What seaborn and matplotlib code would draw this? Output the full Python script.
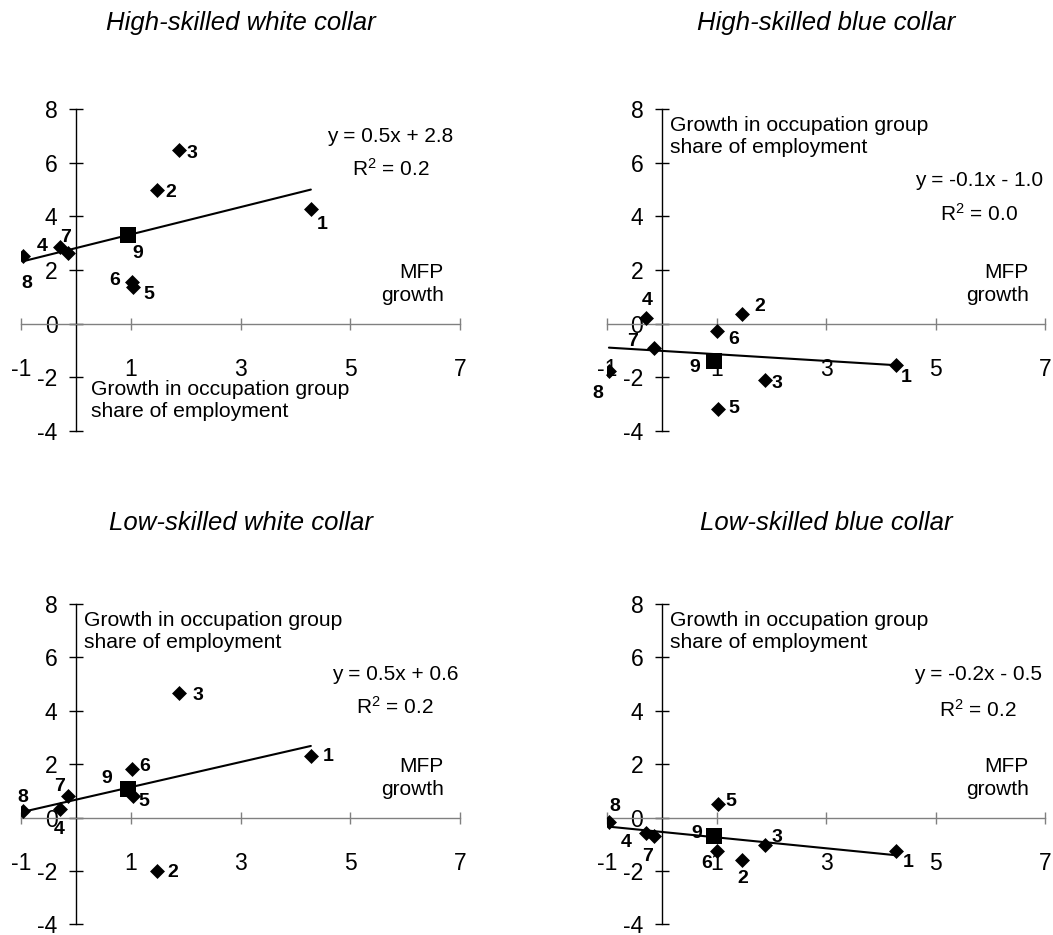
import matplotlib
matplotlib.use("Agg")
import matplotlib.pyplot as plt
import pandas as pd
import seaborn as sn
import numpy as np

# MFP growth by industry (same for every panel), 9 = total
mfp_growth = [4.28, 1.47, 1.88, -0.30, 1.03, 1.01, -0.15, -0.97, 0.95]
industry = ['1', '2', '3', '4', '5', '6', '7', '8', '9']

# growth in occupation group share of employment
hs_white = [4.27, 5.00, 6.47, 2.87, 1.38, 1.55, 2.65, 2.52, 3.30]
hs_blue = [-1.56, 0.37, -2.12, 0.21, -3.18, -0.27, -0.90, -1.77, -1.40]
ls_white = [2.31, -2.00, 4.66, 0.31, 0.81, 1.81, 0.81, 0.26, 1.06]
ls_blue = [-1.25, -1.59, -1.02, -0.59, 0.49, -1.25, -0.71, -0.16, -0.68]

titles = ['High-skilled white collar', 'High-skilled blue collar',
          'Low-skilled white collar', 'Low-skilled blue collar']
slopes = [0.51, -0.125, 0.47, -0.204]
intercepts = [2.82, -1.02, 0.67, -0.54]
equations = ['y = 0.5x + 2.8', 'y = -0.1x - 1.0', 'y = 0.5x + 0.6', 'y = -0.2x - 0.5']
r_squared = ['0.2', '0.0', '0.2', '0.2']

series = [hs_white, hs_blue, ls_white, ls_blue]

# layout: axes boxes in figure pixels (left, top, right, bottom)
W, H = 1053, 935
boxes = [(21.3, 109.3, 460, 430.7), (607.3, 109.3, 1045, 430.7),
         (21.3, 604, 460, 924.3), (607.3, 604, 1045, 924.3)]
title_y = [23, 23, 523, 523]

# text positions (data coords)
growth_pos = [(0.28, -2.1), (0.15, 7.75), (0.15, 7.75), (0.15, 7.75)]
eq_pos = [(5.73, 7.0, 5.76), (5.79, 5.36, 4.11), (5.82, 5.34, 4.16), (5.78, 5.35, 4.05)]

# offsets of number labels from markers (pixels, +y up)
label_offsets = [
    [(11, -15), (14, -3), (13, -3), (-17, 0), (16, -8), (-17, 2), (-2, 15), (4, -27), (10, -18)],
    [(10, -12), (17, 7), (12, -3), (2, 17), (15, 0), (16, -9), (-21, 6), (-11, -23), (-19, -6)],
    [(17, -1), (16, -2), (19, -2), (0, -20), (11, -6), (13, 3), (-8, 9), (0, 13), (-21, 11)],
    [(12, -12), (0, -19), (12, 7), (-19, -9), (12, 3), (-11, -13), (-6, -20), (6, 15), (-17, 2)],
]

sn.set_style('white')
plt.rcParams['font.family'] = ['Liberation Sans', 'DejaVu Sans']
plt.rcParams['mathtext.default'] = 'regular'
plt.rcParams['axes.unicode_minus'] = False
plt.rcParams['text.color'] = 'black'

fig = plt.figure(figsize=(W / 100, H / 100), dpi=100)

for i, vals in enumerate(series):
    l, t, r, b = boxes[i]
    ax = fig.add_axes([l / W, 1 - b / H, (r - l) / W, (b - t) / H])
    ax.set_facecolor('none')

    df = pd.DataFrame({'mfp': mfp_growth, 'share': vals, 'ind': industry})
    inds = df[df['ind'] != '9']
    total = df[df['ind'] == '9']

    # trend line over the range of the data
    xs = np.array([df['mfp'].min(), df['mfp'].max()])
    ax.plot(xs, slopes[i] * xs + intercepts[i], color='black', lw=1.5, zorder=2)

    sn.scatterplot(data=inds, x='mfp', y='share', marker='D', s=58, color='black',
                   linewidth=0, ax=ax, zorder=3)
    sn.scatterplot(data=total, x='mfp', y='share', marker='s', s=121, color='black',
                   linewidth=0, ax=ax, zorder=3)

    for j, row in df.iterrows():
        dx, dy = label_offsets[i][j]
        ax.annotate(row['ind'], (row['mfp'], row['share']), xytext=(dx, dy),
                    textcoords='offset pixels', ha='center', va='center', color='black',
                    fontsize=14, fontweight='bold', zorder=4)

    ax.set_xlim(-1, 7)
    ax.set_ylim(-4, 8)
    ax.set_xticks([-1, 1, 3, 5, 7])
    ax.set_yticks([-4, -2, 0, 2, 4, 6, 8])
    ax.set_xlabel('')
    ax.set_ylabel('')

    ax.spines['top'].set_visible(False)
    ax.spines['right'].set_visible(False)
    ax.spines['left'].set_position(('data', 0))
    ax.spines['bottom'].set_position(('data', 0))
    ax.spines['left'].set_color('black')
    ax.spines['left'].set_linewidth(1.0)
    ax.spines['bottom'].set_color('#808080')
    ax.spines['bottom'].set_linewidth(1.0)

    ax.tick_params(axis='x', bottom=True, direction='inout', length=8.9, width=1.0,
                   color='#808080', pad=20.5, labelsize=16.5, labelcolor='black')
    ax.tick_params(axis='y', left=True, direction='inout', length=10, width=1.0,
                   color='black', pad=8.5, labelsize=16.5, labelcolor='black')

    gx, gy = growth_pos[i]
    ax.text(gx, gy, 'Growth in occupation group\nshare of employment', ha='left', va='top',
            fontsize=15.2, linespacing=1.2)
    ex, ey, ry = eq_pos[i]
    ax.text(ex, ey, equations[i], ha='center', va='center', fontsize=15)
    ax.text(ex, ry, 'R$^2$ = ' + r_squared[i], ha='center', va='center', fontsize=15)
    ax.text(6.7, 1.47, 'MFP\ngrowth', ha='right', va='center', ma='right',
            fontsize=15, linespacing=1.25)

    fig.text((l + r) / 2 / W, 1 - title_y[i] / H, titles[i], ha='center', va='center',
             fontsize=18.5, style='italic', color='black')

fig.savefig('out.png', dpi=100)
